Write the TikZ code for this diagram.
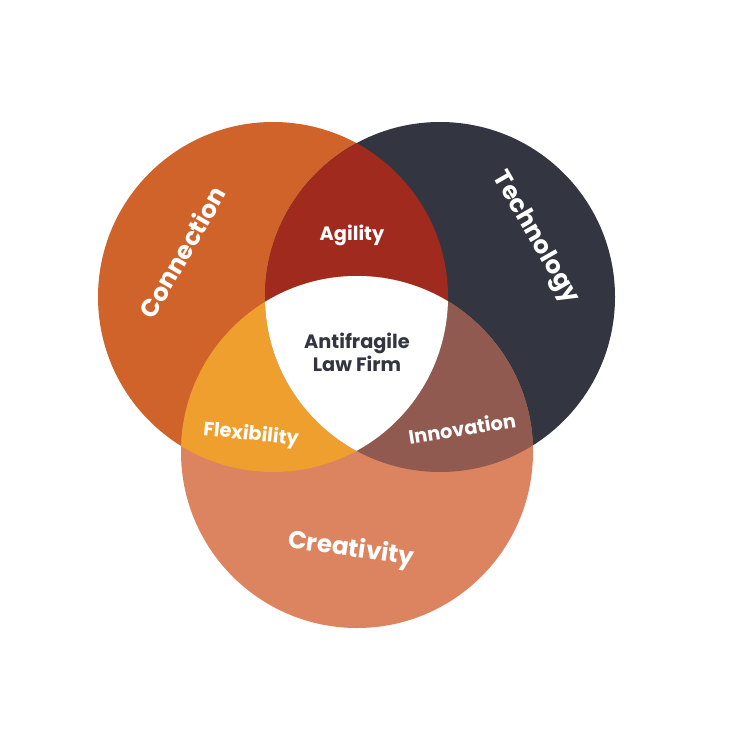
\documentclass[tikz,border=0pt]{standalone}
\usepackage{fontspec}
\setmainfont{Poppins}
\usetikzlibrary{positioning}
\definecolor{connC}{HTML}{D0632A}
\definecolor{techC}{HTML}{333640}
\definecolor{creaC}{HTML}{DC8460}
\definecolor{agilC}{HTML}{A02A1D}
\definecolor{flexC}{HTML}{EF9F2D}
\definecolor{innoC}{HTML}{905A50}
\tikzstyle{bigword} = [white, font=\fontsize{14}{17}\selectfont\bfseries]
\tikzstyle{smallword} = [white, font=\fontsize{11}{13}\selectfont\bfseries]
\begin{document}
\begin{tikzpicture}[x=0.02cm,y=-0.02cm]
    \useasboundingbox (0,0) rectangle (750,750);
    % circles
    \coordinate (conn) at (273,297);
    \coordinate (tech) at (440,297);
    \coordinate (crea) at (357,452);
    \fill[connC] (conn) circle (175);
    \fill[techC] (tech) circle (175);
    \fill[creaC] (crea) circle (176);
    % overlaps
    \begin{scope} \clip (conn) circle (175); \fill[agilC] (tech) circle (175); \end{scope}
    \begin{scope} \clip (conn) circle (175); \fill[flexC] (crea) circle (176); \end{scope}
    \begin{scope} \clip (tech) circle (175); \fill[innoC] (crea) circle (176); \end{scope}
    \begin{scope} \clip (conn) circle (175); \clip (tech) circle (175); \fill[white] (crea) circle (176); \end{scope}
    % labels
    \node [bigword, rotate=60] (lconn) at (182,252) {Connection};
    \node [bigword, rotate=-60] (ltech) at (535,238) {Technology};
    \node [bigword, rotate=-8] (lcrea) at (351,550) {Creativity};
    \node [smallword] (lagil) at (352,235) {Agility};
    \node [smallword, rotate=-6] (lflex) at (251,435) {Flexibility};
    \node [smallword, rotate=9] (linno) at (462,428) {Innovation};
    \node [align=center, text=techC, font=\fontsize{11}{13}\selectfont\bfseries] (lcore) at (357,352) {Antifragile\\Law Firm};
\end{tikzpicture}
\end{document}
